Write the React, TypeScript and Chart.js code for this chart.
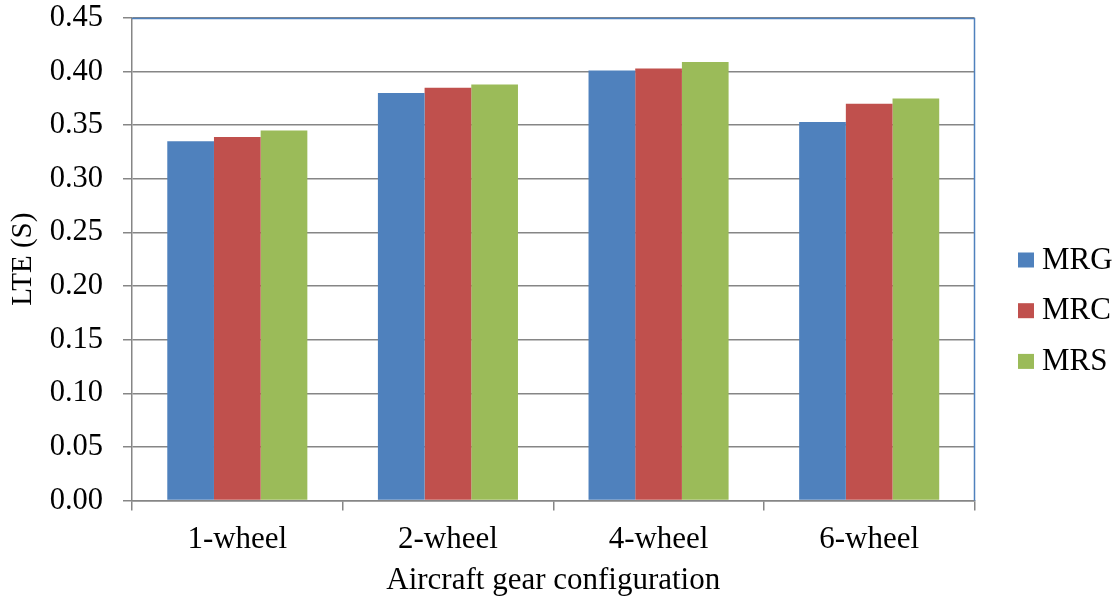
import React, { useEffect, useRef } from "react";
import { Chart, registerables } from "chart.js";

Chart.register(...registerables);

const categories = ["1-wheel", "2-wheel", "4-wheel", "6-wheel"];
const seriesNames = ["MRG", "MRC", "MRS"];
const mrgValues = [0.335, 0.38, 0.401, 0.353];
const mrcValues = [0.339, 0.385, 0.403, 0.37];
const mrsValues = [0.345, 0.388, 0.409, 0.375];
const yTickValues = [0, 0.05, 0.1, 0.15, 0.2, 0.25, 0.3, 0.35, 0.4, 0.45];
const seriesColors = ["#4f81bd", "#c0504d", "#9bbb59"];

const FONT = "'Liberation Serif', 'Times New Roman', serif";
const GRID = "#868686";

export default function App() {
  const ref = useRef<HTMLCanvasElement | null>(null);

  useEffect(() => {
    document.body.style.margin = "0";
    const canvas = ref.current;
    if (!canvas) return;

    const borderPlugin = {
      id: "plotBorder",
      afterDatasetsDraw(chart: any) {
        const { ctx, chartArea } = chart;
        ctx.save();
        ctx.strokeStyle = "#4f81bd";
        ctx.lineWidth = 1.5;
        ctx.beginPath();
        ctx.moveTo(chartArea.left, chartArea.top + 0.5);
        ctx.lineTo(chartArea.right, chartArea.top + 0.5);
        ctx.lineTo(chartArea.right, chartArea.bottom);
        ctx.stroke();
        ctx.restore();
      },
    };

    const legendPlugin = {
      id: "sideLegend",
      afterDraw(chart: any) {
        const { ctx } = chart;
        ctx.save();
        ctx.font = `31px ${FONT}`;
        ctx.textBaseline = "alphabetic";
        ctx.textAlign = "left";
        const startY = 260;
        const step = 50.7;
        chart.data.datasets.forEach((ds: any, i: number) => {
          const cy = startY + i * step;
          ctx.fillStyle = ds.backgroundColor;
          ctx.fillRect(1018, cy - 7.5, 16, 15);
          ctx.fillStyle = "#000";
          ctx.fillText(ds.label, 1042, cy + 8.5);
        });
        ctx.restore();
      },
    };

    const chart = new Chart(canvas, {
      type: "bar",
      data: {
        labels: categories,
        datasets: [
          { label: seriesNames[0], data: mrgValues, backgroundColor: seriesColors[0] },
          { label: seriesNames[1], data: mrcValues, backgroundColor: seriesColors[1] },
          { label: seriesNames[2], data: mrsValues, backgroundColor: seriesColors[2] },
        ],
      },
      options: {
        animation: false,
        responsive: false,
        devicePixelRatio: 1,
        layout: { padding: { top: 0, right: 145.5, left: 0, bottom: 0 } },
        datasets: {
          bar: { categoryPercentage: 0.665, barPercentage: 1.0 },
        },
        plugins: {
          legend: { display: false },
          tooltip: { enabled: false },
        },
        scales: {
          x: {
            grid: {
              offset: true,
              drawOnChartArea: false,
              drawTicks: true,
              tickLength: 10,
              color: GRID,
              lineWidth: 1.5,
            },
            border: { display: true, color: GRID, width: 1.5 },
            ticks: {
              color: "#000",
              font: { family: FONT, size: 31 },
              padding: 11,
              maxRotation: 0,
            },
            title: {
              display: true,
              text: "Aircraft gear configuration",
              color: "#000",
              font: { family: FONT, size: 31 },
              padding: { top: 0, bottom: 2.5 },
            },
            afterFit(scale: any) {
              scale.height = 101.5;
            },
          },
          y: {
            min: 0,
            max: 0.45,
            afterBuildTicks(scale: any) {
              scale.ticks = yTickValues.map((v) => ({ value: v }));
            },
            grid: {
              color: GRID,
              lineWidth: 1.5,
              drawTicks: true,
              tickLength: 9,
            },
            border: { display: true, color: GRID, width: 1.5 },
            ticks: {
              color: "#000",
              font: { family: FONT, size: 30.5 },
              padding: 20,
              callback: (v: any) => Number(v).toFixed(2),
            },
            title: {
              display: true,
              text: "LTE (S)",
              color: "#000",
              font: { family: FONT, size: 29 },
              padding: { top: 5.6, bottom: 0 },
            },
            afterFit(scale: any) {
              scale.width = 132;
              scale.paddingTop = 18;
              scale.paddingBottom = 0;
            },
          },
        },
      },
      plugins: [borderPlugin, legendPlugin],
    });

    return () => chart.destroy();
  }, []);

  return (
    <div style={{ position: "relative", width: 1120, height: 602 }}>
      <canvas ref={ref} width={1120} height={602} style={{ display: "block" }} />
    </div>
  );
}
